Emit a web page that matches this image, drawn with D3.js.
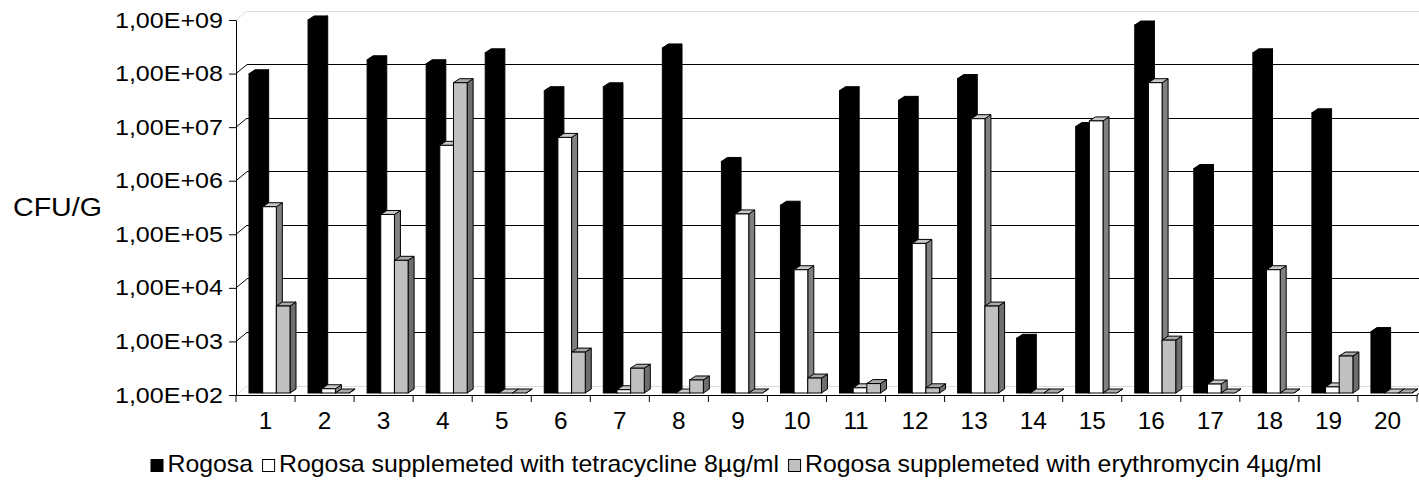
<!DOCTYPE html>
<html>
<head>
<meta charset="utf-8">
<script src="https://cdn.jsdelivr.net/npm/d3@7"></script>
<style>
  body { margin: 0; background: #fff; }
  svg { display: block; font-family: Arial, "Liberation Sans", sans-serif; }
</style>
</head>
<body>
<div id="chart"></div>
<script>
// Dados (CFU/G, escala log)
const categories = ["1", "2", "3", "4", "5", "6", "7", "8", "9", "10",
  "11", "12", "13", "14", "15", "16", "17", "18", "19", "20"];
const rogosa = [9.1e7, 9.2e8, 1.66e8, 1.4e8, 2.24e8, 4.4e7, 5.2e7, 2.76e8, 2.1e6, 3.2e5,
  4.4e7, 2.9e7, 7.4e7, 1.05e3, 9.4e6, 7.4e8, 1.55e6, 2.24e8, 1.7e7, 1.4e3];
const tetracycline = [3.0e5, 120, 2.15e5, 4.2e6, 100, 5.9e6, 115, 100, 2.2e5, 2.0e4,
  125, 6.2e4, 1.32e7, 100, 1.2e7, 6.2e7, 147, 2.0e4, 130, 100];
const erythromycin = [4.2e3, 100, 3.0e4, 6.2e7, 100, 580, 290, 175, 100, 190,
  150, 125, 4.2e3, 100, 100, 970, 100, 100, 490, 100];
const seriesNames = [
  "Rogosa",
  "Rogosa supplemeted with tetracycline 8µg/ml",
  "Rogosa supplemeted with erythromycin 4µg/ml",
];
const tickValues = [1e2, 1e3, 1e4, 1e5, 1e6, 1e7, 1e8, 1e9];
const tickLabels = ["1,00E+02", "1,00E+03", "1,00E+04", "1,00E+05",
  "1,00E+06", "1,00E+07", "1,00E+08", "1,00E+09"];
const axisTitle = "CFU/G";

// Cores de cada série: frente, topo, lado
const seriesColors = [
  { front: "#000000", top: "#000000", side: "#000000" },
  { front: "#ffffff", top: "#c8c8c8", side: "#808080" },
  { front: "#c0c0c0", top: "#a8a8a8", side: "#6e6e6e" },
];

const width = 1419;
const height = 489;
const plot = { left: 236, right: 1417, top: 20, bottom: 395 };
const wall = { dx: 11, dy: -9 }; // profundidade da parede do fundo
const bar3d = { dx: 6, dy: -4 }; // profundidade das barras
const barShift = -2; // frente das barras fica um pouco atrás do eixo

const svg = d3
  .select("#chart")
  .append("svg")
  .attr("width", width)
  .attr("height", height);

// Escalas
const x = d3.scaleBand().domain(categories).range([plot.left, plot.right]);
const xs = d3.scaleBand().domain([0, 1, 2]).range([13, 54]);
const y = d3.scaleLog().domain([1e2, 1e9]).range([plot.bottom, plot.top]);

// Parede do fundo: linhas de grade
svg
  .append("g")
  .selectAll("line")
  .data(tickValues)
  .enter()
  .append("line")
  .attr("x1", plot.left + wall.dx)
  .attr("x2", width)
  .attr("y1", (d) => y(d) + wall.dy)
  .attr("y2", (d) => y(d) + wall.dy)
  .attr("stroke", (d) => (d === 1e2 || d === 1e9 ? "#dcdcdc" : "#000"))
  .attr("stroke-width", 1)
  .attr("shape-rendering", "crispEdges");

// Parede lateral: diagonais de cada marca
svg
  .append("g")
  .selectAll("line")
  .data(tickValues)
  .enter()
  .append("line")
  .attr("x1", plot.left)
  .attr("y1", (d) => y(d))
  .attr("x2", plot.left + wall.dx)
  .attr("y2", (d) => y(d) + wall.dy)
  .attr("stroke", (d) => (d === 1e2 || d === 1e9 ? "#dcdcdc" : "#000"))
  .attr("stroke-width", 1);

// Borda direita do piso
svg
  .append("line")
  .attr("x1", plot.right)
  .attr("y1", plot.bottom)
  .attr("x2", plot.right + wall.dx)
  .attr("y2", plot.bottom + wall.dy)
  .attr("stroke", "#000");

// Barras 3D (ordem: categoria, depois série)
const bars = [];
categories.forEach((c, k) => {
  [rogosa[k], tetracycline[k], erythromycin[k]].forEach((v, i) => {
    bars.push({ cat: c, series: i, value: v });
  });
});

const bw = xs.bandwidth();
const barGroups = svg
  .append("g")
  .selectAll(".bar")
  .data(bars)
  .enter()
  .append("g")
  .attr("class", "bar");

function pts(arr) {
  return arr.map((p) => p.join(",")).join(" ");
}

// lado
barGroups
  .append("polygon")
  .attr("points", (d) => {
    const x1 = x(d.cat) + xs(d.series) + bw;
    const yt = y(d.value) + barShift;
    const yb = y(1e2) + barShift;
    return pts([
      [x1, yt],
      [x1 + bar3d.dx, yt + bar3d.dy],
      [x1 + bar3d.dx, yb + bar3d.dy],
      [x1, yb],
    ]);
  })
  .attr("fill", (d) => seriesColors[d.series].side)
  .attr("stroke", "#000")
  .attr("stroke-width", 1)
  .attr("stroke-linejoin", "round");

// topo
barGroups
  .append("polygon")
  .attr("points", (d) => {
    const x0 = x(d.cat) + xs(d.series);
    const yt = y(d.value) + barShift;
    return pts([
      [x0, yt],
      [x0 + bw, yt],
      [x0 + bw + bar3d.dx, yt + bar3d.dy],
      [x0 + bar3d.dx, yt + bar3d.dy],
    ]);
  })
  .attr("fill", (d) => seriesColors[d.series].top)
  .attr("stroke", "#000")
  .attr("stroke-width", 1)
  .attr("stroke-linejoin", "round");

// frente
barGroups
  .append("rect")
  .attr("x", (d) => x(d.cat) + xs(d.series))
  .attr("y", (d) => y(d.value) + barShift)
  .attr("width", bw)
  .attr("height", (d) => y(1e2) - y(d.value))
  .attr("fill", (d) => seriesColors[d.series].front)
  .attr("stroke", "#000")
  .attr("stroke-width", 1);

// Eixo Y
const yStretch = 1.14;
svg
  .append("g")
  .attr("transform", `translate(${plot.left},0)`)
  .call(
    d3
      .axisLeft(y)
      .tickValues(tickValues)
      .tickFormat((d, i) => tickLabels[i])
      .tickSizeInner(7)
      .tickSizeOuter(0)
  )
  .call((g) => g.select(".domain").attr("stroke", "#000"))
  .call((g) => g.selectAll(".tick line").attr("stroke", "#000"))
  .selectAll("text")
  .attr("x", -13 / yStretch)
  .attr("transform", `scale(${yStretch},1)`)
  .style("font-family", "Arial, 'Liberation Sans', sans-serif")
  .style("font-size", "22px")
  .style("fill", "#000");

// Eixo X
const xStretch = 1.06;
svg
  .append("g")
  .attr("transform", `translate(0,${plot.bottom})`)
  .call(d3.axisBottom(x).tickSize(0).tickPadding(18))
  .call((g) => g.select(".domain").attr("stroke", "#000"))
  .selectAll("text")
  .attr("transform", `scale(${xStretch},1)`)
  .style("font-family", "Arial, 'Liberation Sans', sans-serif")
  .style("font-size", "23px")
  .style("fill", "#000");

// Marcas entre categorias
svg
  .append("g")
  .selectAll("line")
  .data(categories.map((c) => x(c)).concat([plot.right]))
  .enter()
  .append("line")
  .attr("x1", (d) => d)
  .attr("x2", (d) => d)
  .attr("y1", plot.bottom)
  .attr("y2", plot.bottom + 7)
  .attr("stroke", "#000");

// Título do eixo
svg
  .append("text")
  .attr("transform", "translate(13,216) scale(1.1,1)")
  .style("font-size", "26px")
  .style("fill", "#000")
  .text(axisTitle);

// Legenda
const legendStretch = 1.08;
const legend = svg.append("g").attr("class", "legend");
const legendBaseline = 472;
const sq = 12;
let cursor = 0;
seriesNames.forEach((name, i) => {
  if (i > 0) cursor += 9;
  legend
    .append("rect")
    .attr("x", cursor + 0.5)
    .attr("y", legendBaseline - sq - 0.5)
    .attr("width", sq)
    .attr("height", sq)
    .attr("fill", seriesColors[i].front)
    .attr("stroke", "#000");
  cursor += sq + 5;
  const t = legend
    .append("text")
    .attr("transform", `translate(${cursor},${legendBaseline}) scale(${legendStretch},1)`)
    .style("font-size", "23px")
    .style("fill", "#000")
    .text(name);
  cursor += t.node().getComputedTextLength() * legendStretch;
});
legend.attr("transform", `translate(${(736 - cursor / 2).toFixed(1)},0)`);
</script>
</body>
</html>
